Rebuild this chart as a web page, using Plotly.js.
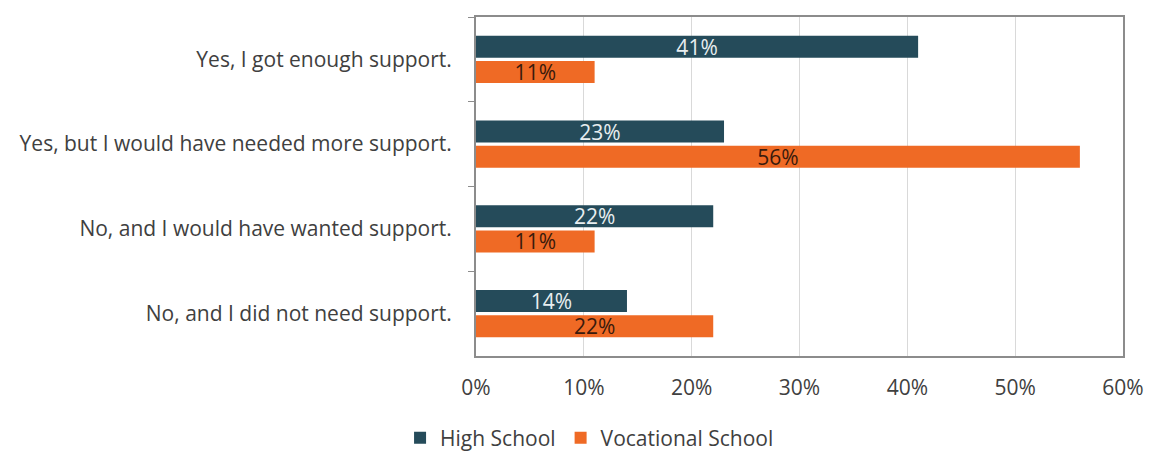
<!DOCTYPE html>
<html><head><meta charset="utf-8">
<script src="https://cdn.plot.ly/plotly-3.0.1.min.js"></script>
<style>html,body{margin:0;padding:0;background:#fff}#chart{width:1156px;height:452px}</style>
</head><body><div id="chart"></div>
<script>
const categories = [
  "Yes, I got enough support.",
  "Yes, but I would have needed more support.",
  "No, and I would have wanted support.",
  "No, and I did not need support."
];
const highSchool = [41, 23, 22, 14];
const vocational = [11, 56, 11, 22];
const tickVals = [0, 10, 20, 30, 40, 50, 60];
const tickText = ["0%", "10%", "20%", "30%", "40%", "50%", "60%"];

const FONT = "'Open Sans', 'Noto Sans', sans-serif";
const traces = [
  {type: "bar", orientation: "h", name: "High School", y: categories, x: highSchool,
   marker: {color: "#254B5A"}, text: highSchool.map(v => v + "%"), textposition: "inside",
   insidetextanchor: "middle", textfont: {color: "#E8EEF0", size: 21, family: FONT}, hoverinfo: "x+y"},
  {type: "bar", orientation: "h", name: "Vocational School", y: categories, x: vocational,
   marker: {color: "#EF6A25"}, text: vocational.map(v => v + "%"), textposition: "inside",
   insidetextanchor: "middle", textfont: {color: "#3A1A0C", size: 21, family: FONT}, hoverinfo: "x+y"}
];
const layout = {
  width: 1156, height: 452,
  margin: {l: 476, r: 33, t: 17, b: 96, autoexpand: false},
  paper_bgcolor: "#fff", plot_bgcolor: "#fff",
  font: {family: FONT, size: 21, color: "#404040"},
  barmode: "group", bargap: 0.41, bargroupgap: 0.12,
  showlegend: true,
  legend: {orientation: "h", xref: "container", x: 0.51, xanchor: "center", yref: "container", y: 0.031, yanchor: "middle",
           font: {size: 21, color: "#404040"}, itemwidth: 30, tracegroupgap: 0, entrywidth: 0},
  xaxis: {range: [0, 60], tickvals: tickVals, ticktext: tickText, showgrid: true, gridcolor: "#D9D9D9", gridwidth: 1,
          zeroline: false, showline: true, linecolor: "#8C8C8C", linewidth: 2, mirror: true, ticks: "",
          ticklabelstandoff: 12, tickfont: {size: 21}, fixedrange: true, automargin: false},
  xaxis2: {overlaying: "x", matches: "x", side: "top", range: [0, 60], tickvals: tickVals, showticklabels: false,
           ticks: "outside", ticklen: 6, tickcolor: "#8C8C8C", tickwidth: 1, showgrid: false, zeroline: false,
           showline: false, automargin: false},
  yaxis: {type: "category", autorange: "reversed", showline: true, linecolor: "#8C8C8C", linewidth: 2, mirror: true,
          ticks: "outside", tickson: "boundaries", ticklen: 6, tickcolor: "#8C8C8C", tickwidth: 1,
          ticklabelstandoff: 18, tickfont: {size: 21}, showgrid: false, zeroline: false, fixedrange: true, automargin: false}
};
traces.forEach(t => { t.constraintext = "none"; });
Plotly.newPlot("chart", traces, layout, {displayModeBar: false, staticPlot: true});
</script></body></html>
